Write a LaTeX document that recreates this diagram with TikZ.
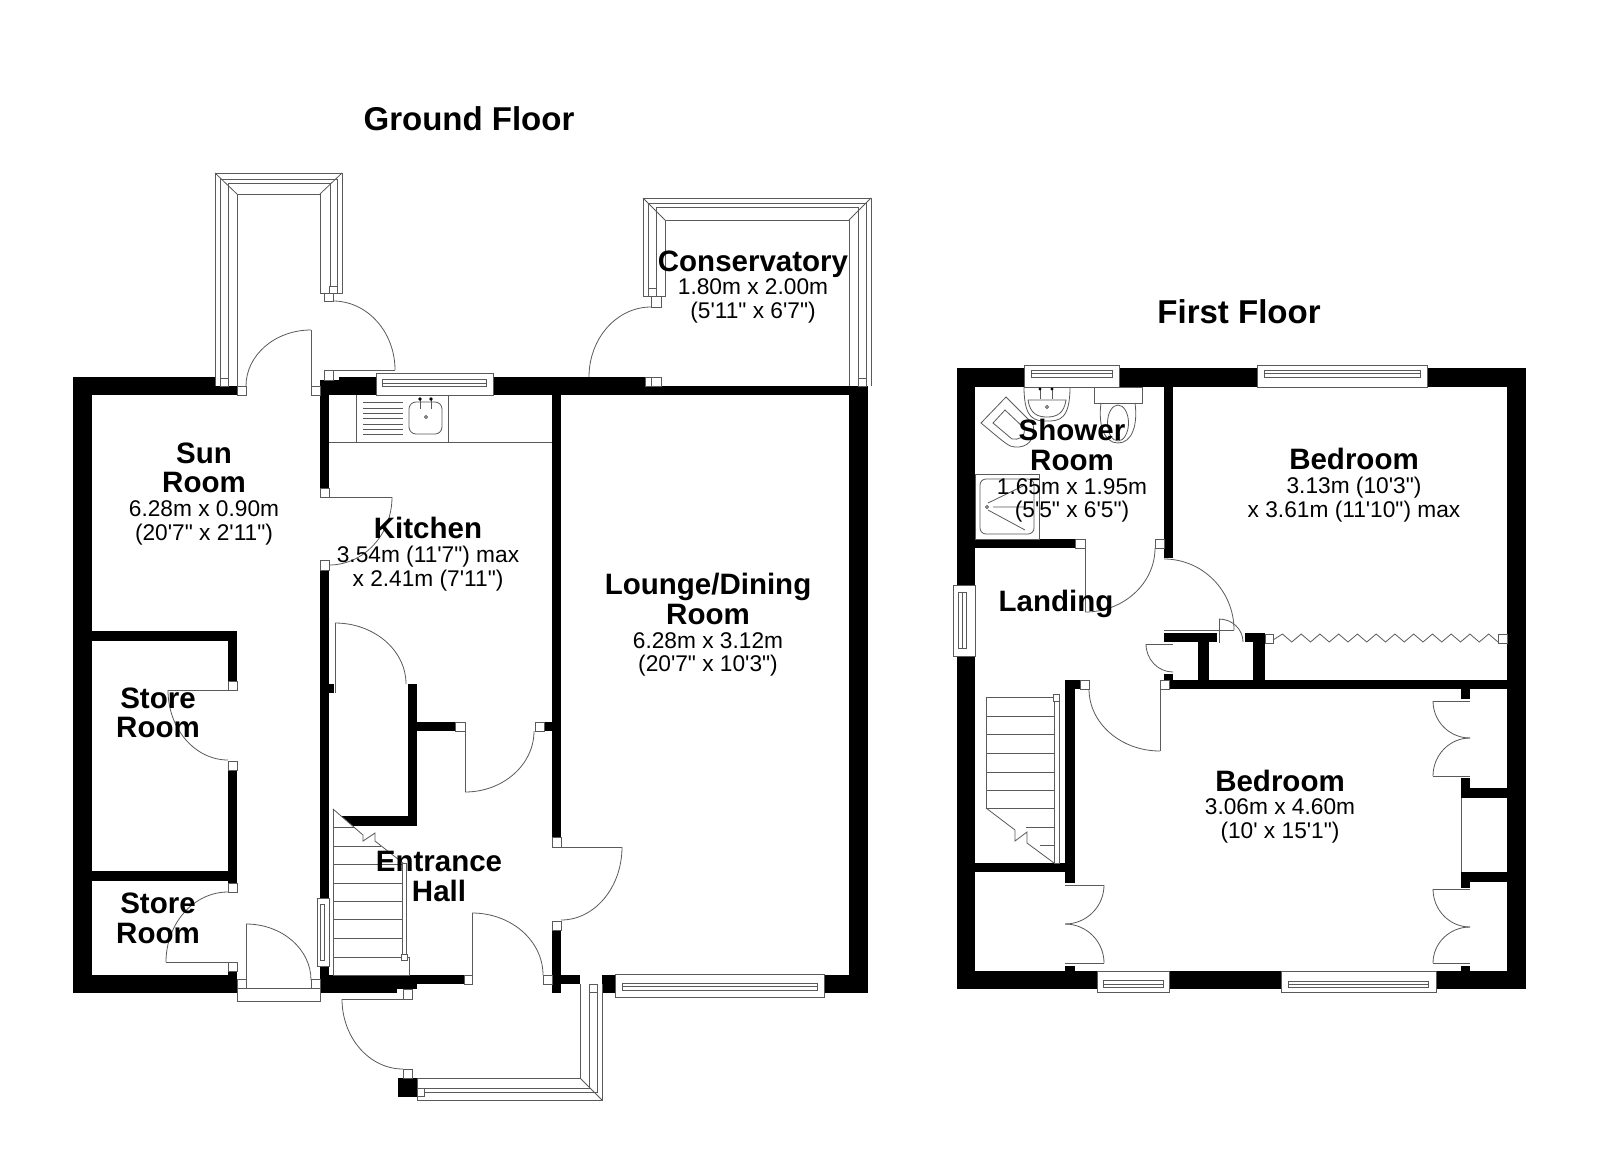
\documentclass[tikz,border=0pt]{standalone}
\usepackage{fontspec}
\usetikzlibrary{calc}
\newfontfamily\lsans{Liberation Sans}
\newcommand\roomf{\lsans\bfseries\fontsize{29.5}{29.6}\selectfont}
\newcommand\dimf{\lsans\fontsize{22.7}{23.8}\selectfont}
\definecolor{planline}{HTML}{5A5A5A}
\tikzset{
  wall/.style={fill=black},
  thinl/.style={draw=planline,line width=0.8pt},
  jambbox/.style={draw=planline,line width=0.8pt,fill=white},
  lab/.style={text width=320pt,align=flush center,inner sep=0pt,text=black},
  heading/.style={font=\lsans\bfseries\fontsize{33}{36}\selectfont,inner sep=0pt},
}
\newcommand\wallr[4]{\fill[wall] (#1,#2) rectangle (#3,#4);}
\newcommand\jamb[4]{\path[jambbox] (#1,#2) rectangle (#3,#4);}
\newcommand\seg[4]{\draw[thinl] (#1,#2) -- (#3,#4);}
\newcommand\qarc[6]{\draw[thinl] (#1,#2) .. controls ($(#1,#2)!0.5523!(#5,#6)$) and ($(#3,#4)!0.5523!(#5,#6)$) .. (#3,#4);}
\newcommand\Rm[1]{{\roomf #1\par}}
\newcommand\Dm[1]{{\dimf #1\par}}
\begin{document}
\begin{tikzpicture}[x=1pt,y=-1pt]
\useasboundingbox (0,0) rectangle (1600,1163);
\fill[white] (0,0) rectangle (1600,1163);
%% ---------- GROUND FLOOR walls
\wallr{73}{377}{92}{993}
\wallr{73}{377}{237}{395}
\wallr{73}{975}{237}{993}
\wallr{228}{971}{237}{975}
\wallr{92}{631}{237}{641}
\wallr{228}{631}{237}{681}
\wallr{228}{770}{237}{883}
\wallr{92}{871}{237}{881}
\wallr{320}{380}{339}{395}
\wallr{339}{377}{493}{395}
\wallr{493}{377}{645}{395}
\wallr{645}{386}{868}{395}
\wallr{849}{386}{868}{993}
\wallr{320}{395}{329}{488}
\wallr{320}{570}{329}{975}
\wallr{329}{684}{334}{693}
\wallr{552}{395}{561}{837}
\wallr{408}{684}{417}{826}
\wallr{334}{816}{417}{826}
\wallr{417}{722}{455}{731}
\wallr{544}{722}{552}{731}
\wallr{552}{930}{561}{993}
\wallr{320}{975}{464}{984}
\wallr{320}{984}{417}{989}
\wallr{320}{989}{397}{993}
\wallr{561}{975}{580}{984}
\wallr{602}{975}{615}{993}
\wallr{824}{975}{868}{993}
\wallr{398}{1078}{417}{1097}
%% white wedge of the stair break
\fill[white] (333,809) -- (363,835) -- (333,835) -- cycle;
%% jambs
\jamb{237}{386}{246}{395}
\jamb{311}{386}{320}{395}
\jamb{324}{293}{333}{301}
\jamb{324}{370}{333}{380}
\jamb{320}{488}{329}{497}
\jamb{320}{560}{329}{570}
\jamb{228}{681}{237}{690}
\jamb{228}{761}{237}{770}
\jamb{228}{883}{237}{892}
\jamb{228}{962}{237}{971}
\jamb{237}{979}{246}{988}
\jamb{311}{979}{320}{988}
\jamb{455}{722}{465}{731}
\jamb{535}{722}{544}{731}
\jamb{552}{837}{561}{847}
\jamb{552}{921}{561}{930}
\jamb{464}{975}{472}{984}
\jamb{543}{975}{552}{984}
\jamb{403}{989}{412}{999}
\jamb{403}{1069}{412}{1078}
\jamb{651}{296}{661}{307}
\jamb{645}{377}{651}{386}
\jamb{651}{377}{661}{386}
%% doors
\seg{311}{330}{311}{386}
\qarc{311}{330}{246}{386}{246}{330}
\seg{324}{370}{395}{370}
\qarc{333}{301}{395}{370}{395}{301}
\qarc{651}{307}{589}{377}{589}{307}
\seg{329}{497}{392}{497}
\qarc{392}{497}{329}{565}{392}{565}
\seg{168}{690}{228}{690}
\qarc{168}{690}{228}{760}{168}{760}
\seg{166}{962}{228}{962}
\qarc{166}{962}{228}{892}{166}{892}
\seg{246}{924}{246}{979}
\qarc{246}{924}{311}{980}{311}{924}
\seg{335}{623}{335}{693}
\qarc{335}{623}{406}{684}{406}{623}
\seg{465}{731}{465}{792}
\qarc{465}{792}{534}{731}{534}{792}
\seg{561}{847}{622}{847}
\qarc{622}{847}{561}{920}{622}{920}
\seg{472}{913}{472}{975}
\qarc{472}{913}{543}{975}{543}{913}
\seg{342}{999}{403}{999}
\qarc{342}{999}{403}{1069}{342}{1069}
%% threshold
\path[jambbox] (237,988) rectangle (320,1001);
%% sun-room porch
\path[fill=white] (215,173) rectangle (237,386);
\draw[thinl] (215,386) -- (215,173) -- (342,173) -- (342,293) -- (320,293) -- (320,194) -- (237,194) -- (237,386);
\draw[thinl] (220,378) -- (220,179) -- (337,179) -- (337,286);
\draw[thinl] (228,378) -- (228,183) -- (330,183) -- (330,286);
\draw[thinl] (215,173) -- (237,194) (342,173) -- (320,194);
\jamb{220}{378}{228}{386}
\jamb{329}{286}{337}{293}
%% kitchen window
\path[jambbox] (376,373) rectangle (493,395);
\draw[thinl] (382,379) rectangle (486,386) (382,383) -- (486,383);
%% worktop and sink
\seg{329}{442}{552}{442}
\seg{356}{395}{356}{442}
\seg{448}{395}{448}{442}
\foreach \yy in {402,408,413,418,424,429,434}{\draw[thinl] (363,\yy) -- (403,\yy);}
\draw[thinl,rounded corners=7pt] (409,402) rectangle (442,434);
\draw[thinl] (420,400) -- (420,409) (431,400) -- (431,409);
\fill[black] (420,399) circle (1.8pt) (431,399) circle (1.8pt);
\draw[thinl] (426,417) circle (1.5pt);
%% conservatory
\path[fill=white] (643,198) rectangle (665,296);
\draw[thinl] (643,296) -- (643,198) -- (871,198) -- (871,386);
\draw[thinl] (643,296) -- (665,296) -- (665,220) -- (849,220) -- (849,386);
\draw[thinl] (648,288) -- (648,203) -- (866,203) -- (866,378);
\draw[thinl] (656,288) -- (656,207) -- (858,207) -- (858,378);
\draw[thinl] (643,198) -- (665,220) (871,198) -- (849,220);
\jamb{648}{288}{656}{296}
\jamb{858}{378}{866}{386}
%% stairs ground floor
\seg{333}{827}{355}{827}
\seg{333}{846}{381}{846}
\foreach \yy in {864,883,901,919,938,957}{\draw[thinl] (333,\yy) -- (402,\yy);}
\draw[thinl] (333,809) -- (333,975);
\path[jambbox,fill=none] (333,957) rectangle (409,975);
\path[jambbox] (402,863) rectangle (406,954);
\jamb{401}{954}{407}{960}
\draw[thinl] (333,809) -- (363,835) -- (363,841) -- (375,833) -- (375,841) -- (403,863);
%% stair-side window
\path[jambbox] (317,898) rectangle (329,966);
\draw[thinl] (320,904) rectangle (324,960);
%% lounge window
\path[jambbox] (615,974) rectangle (824,997);
\draw[thinl] (622,983) rectangle (817,990) (622,986) -- (817,986);
%% front porch
\draw[thinl] (602,984) -- (602,1100) -- (417,1100) -- (417,1078) -- (580,1078) -- (580,984);
\draw[thinl] (597,992) -- (597,1092) -- (424,1092);
\draw[thinl] (589,992) -- (589,1088) -- (424,1088);
\draw[thinl] (580,1078) -- (602,1100);
\jamb{589}{984}{597}{992}
\jamb{417}{1088}{424}{1096}
%% ---------- FIRST FLOOR walls
\wallr{957}{368}{1526}{387}
\wallr{957}{368}{975}{989}
\wallr{957}{971}{1526}{989}
\wallr{1507}{368}{1526}{989}
\wallr{1164}{387}{1173}{558}
\wallr{975}{539}{1075}{548}
\wallr{1164}{633}{1217}{642}
\wallr{1198}{642}{1209}{680}
\wallr{1245}{633}{1265}{642}
\wallr{1253}{642}{1265}{680}
\wallr{1168}{680}{1507}{689}
\wallr{1164}{674}{1173}{680}
\wallr{1065}{680}{1080}{689}
\wallr{1065}{689}{1075}{883}
\wallr{1065}{966}{1075}{971}
\wallr{975}{863}{1075}{872}
\wallr{1461}{689}{1470}{699}
\wallr{1461}{778}{1470}{798}
\wallr{1470}{788}{1507}{798}
\wallr{1461}{872}{1470}{888}
\wallr{1470}{872}{1507}{882}
\wallr{1461}{966}{1470}{971}
%% first floor jambs
\jamb{1075}{539}{1085}{548}
\jamb{1155}{539}{1164}{548}
\jamb{1080}{680}{1089}{689}
\jamb{1160}{680}{1169}{689}
\jamb{1265}{634}{1273}{643}
\jamb{1498}{634}{1507}{643}
%% first floor doors
\seg{1085}{548}{1085}{612}
\qarc{1085}{612}{1155}{548}{1155}{612}
\seg{1164}{630}{1234}{630}
\qarc{1164}{559}{1234}{630}{1234}{559}
\seg{1219}{619}{1219}{643}
\qarc{1219}{619}{1243}{642}{1243}{619}
\seg{1146}{644}{1173}{644}
\qarc{1146}{644}{1173}{672}{1146}{672}
\seg{1160}{689}{1160}{751}
\qarc{1160}{751}{1089}{689}{1089}{751}
%% wardrobes
\seg{1065}{885}{1104}{885}
\qarc{1104}{885}{1065}{924}{1104}{924}
\qarc{1065}{924}{1104}{963}{1104}{924}
\seg{1065}{963}{1104}{963}
\seg{1433}{701}{1470}{701}
\qarc{1433}{701}{1470}{738}{1433}{738}
\qarc{1470}{738}{1433}{776}{1433}{738}
\seg{1433}{776}{1470}{776}
\seg{1433}{889}{1470}{889}
\qarc{1433}{889}{1470}{927}{1433}{927}
\qarc{1470}{927}{1433}{963}{1433}{927}
\seg{1433}{963}{1470}{963}
\seg{1461}{798}{1461}{872}
%% folding door
\draw[thinl] (1273,640)
  \foreach \ii in {0,...,11}{ -- ({1273+18.75*\ii+9.4},634) -- ({1273+18.75*\ii+18.75},642)};
%% first floor windows
\path[jambbox] (1024,365) rectangle (1119,387);
\draw[thinl] (1031,370) rectangle (1112,377) (1031,373) -- (1112,373);
\path[jambbox] (1257,365) rectangle (1427,387);
\draw[thinl] (1264,370) rectangle (1420,377) (1264,373) -- (1420,373);
\path[jambbox] (953,585) rectangle (975,656);
\draw[thinl] (958,592) rectangle (966,648) (962,592) -- (962,648);
\path[jambbox] (1097,971) rectangle (1169,992);
\draw[thinl] (1103,980) rectangle (1163,987) (1103,984) -- (1163,984);
\path[jambbox] (1281,971) rectangle (1436,992);
\draw[thinl] (1288,981) rectangle (1428,987) (1288,984) -- (1428,984);
%% first floor stairs
\foreach \yy in {697,716,734,753,772,790,808}{\draw[thinl] (986,\yy) -- (1054,\yy);}
\seg{1026}{827}{1054}{827}
\seg{1040}{845}{1054}{845}
\seg{986}{697}{986}{808}
\path[jambbox] (1054,697) rectangle (1059,863);
\jamb{1053}{694}{1059}{701}
\draw[thinl] (986,808) -- (1015,830) -- (1015,841) -- (1027,832) -- (1027,843) -- (1054,863);
%% shower room fittings
\draw[thinl] (1024,387) .. controls (1024,420) and (1035,421) .. (1047,421) .. controls (1059,421) and (1070,420) .. (1070,387);
\draw[thinl] (1028,400) .. controls (1030,414) and (1038,417) .. (1047,417) .. controls (1056,417) and (1064,414) .. (1066,400) -- cycle;
\draw[thinl,fill=white] (1040,389) -- (1040,399) (1052,389) -- (1052,399);
\fill[black] (1040,389) circle (1.6pt) (1052,389) circle (1.6pt);
\draw[thinl] (1047,407) circle (1.5pt);
\draw[thinl] (1094,387) rectangle (1142,403);
\draw[thinl] (1101,403) .. controls (1098,425) and (1104,443) .. (1118,443) .. controls (1132,443) and (1138,425) .. (1135,403);
\draw[thinl] (1118,423) ellipse (10.5pt and 18pt);
\draw[thinl] (981,423) -- (1006,397) -- (1033,424) .. controls (1036,440) and (1027,448) .. (1015,447) .. controls (1009,447) and (1005,443) .. cycle;
\draw[thinl] (993,423) -- (1005,410) -- (1024,428) .. controls (1026,438) and (1018,440) .. (1012,439) -- cycle;
\draw[thinl] (975,474) rectangle (1039,539);
\draw[thinl,rounded corners=6pt] (980,479) rectangle (1034,534);
\draw[thinl] (987,507) circle (1.5pt);
\draw[thinl] (988,503) -- (1025,485) (993,507) -- (1025,507) (988,510) -- (1025,530);
%% ---------- TEXT
\node[heading] (gf) at (469,119) {Ground Floor};
\node[heading] (ff) at (1239,312) {First Floor};
\node[lab] (cons) at (753,287) {\Rm{Conservatory}\Dm{1.80m x 2.00m}\Dm{(5'11" x 6'7")}};
\node[lab] (sun) at (204,494) {\Rm{Sun}\Rm{Room}\Dm{6.28m x 0.90m}\Dm{(20'7" x 2'11")}};
\node[lab] (kit) at (428,554) {\Rm{Kitchen}\Dm{3.54m (11'7") max}\Dm{x 2.41m (7'11")}};
\node[lab] (lng) at (708,625) {\Rm{Lounge/Dining}\Rm{Room}\Dm{6.28m x 3.12m}\Dm{(20'7" x 10'3")}};
\node[lab] (st1) at (158,713) {\Rm{Store}\Rm{Room}};
\node[lab] (st2) at (158,918.5) {\Rm{Store}\Rm{Room}};
\node[lab] (ent) at (439,876.5) {\Rm{Entrance}\Rm{Hall}};
\node[lab] (shw) at (1072,471) {\Rm{Shower}\Rm{Room}\Dm{1.65m x 1.95m}\Dm{(5'5" x 6'5")}};
\node[lab] (bd1) at (1354,485) {\Rm{Bedroom}\Dm{3.13m (10'3")}\Dm{x 3.61m (11'10") max}};
\node[lab] (lnd) at (1056,604) {\Rm{Landing}};
\node[lab] (bd2) at (1280,806.5) {\Rm{Bedroom}\Dm{3.06m x 4.60m}\Dm{(10' x 15'1")}};
\end{tikzpicture}
\end{document}
